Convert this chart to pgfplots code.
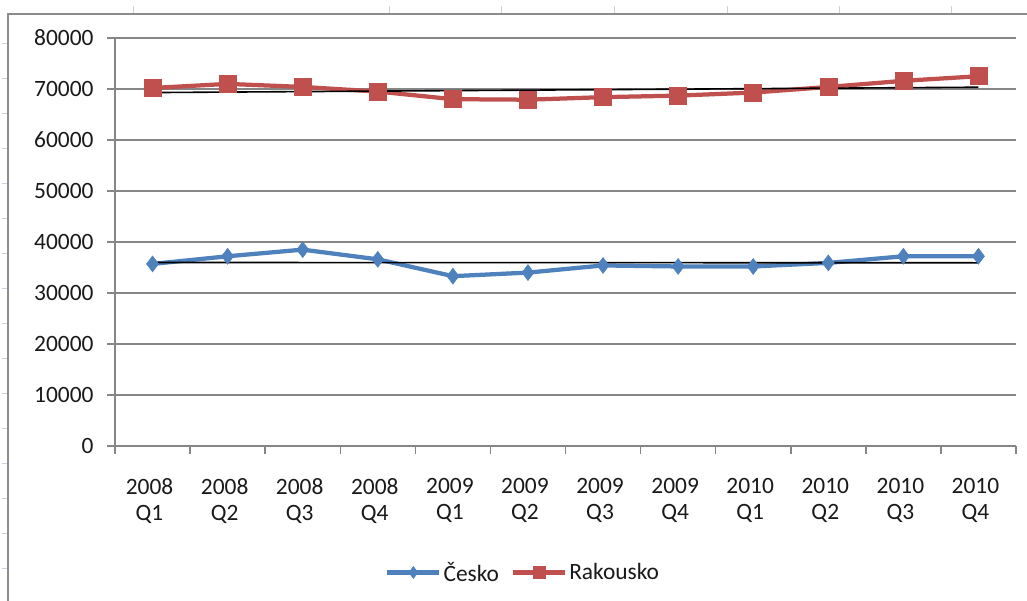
\documentclass[border=0pt]{standalone}
\usepackage{fontspec}
\setmainfont{Carlito}
\usepackage{pgfplots}
\pgfplotsset{compat=1.18}
\definecolor{czblue}{HTML}{4F81BD}
\definecolor{atred}{HTML}{C0504D}
\definecolor{gridgray}{HTML}{868686}
\definecolor{framegray}{HTML}{8C8C8C}
\definecolor{sheetline}{HTML}{C9D3E3}
\definecolor{labeltext}{HTML}{1A1A1A}

% Quarterly values
\pgfplotstableread{
q   cz     at
1   35700  70200
2   37200  71000
3   38500  70400
4   36600  69500
5   33300  68000
6   34000  67900
7   35400  68400
8   35200  68700
9   35200  69300
10  35900  70400
11  37200  71600
12  37200  72500
}\datatable

\newcommand{\chartfont}{\fontsize{23.5}{26}\selectfont}

\begin{document}
\begin{tikzpicture}[x=1bp,y=1bp]
\path[use as bounding box] (0,0) rectangle (1027,601);
\fill[white] (0,0) rectangle (1027,601);
% worksheet cell lines peeking around the chart area
\foreach \xx in {133,389,501,614,727,839,951}
  \draw[sheetline, line width=1bp] (\xx,587) -- (\xx,595);
\foreach \yy in {44,79,114,149,184,219,254,289,324,359,394,429,464,499,534,569}
  \draw[sheetline, line width=1bp] (2,601-\yy) -- (8,601-\yy);
% chart area border
\draw[framegray, line width=1.5bp] (8,0) -- (8,587) -- (1027,587);
\begin{axis}[
  at={(115bp,155bp)}, anchor=south west,
  width=901bp, height=408bp, scale only axis,
  xmin=0.5, xmax=12.5, ymin=0, ymax=80000,
  axis lines=left,
  axis line style={-, gridgray, line width=1.5bp},
  xtick={0.5,1.5,...,12.5},
  x tick label as interval,
  xticklabels={{2008\\Q1},{2008\\Q2},{2008\\Q3},{2008\\Q4},
               {2009\\Q1},{2009\\Q2},{2009\\Q3},{2009\\Q4},
               {2010\\Q1},{2010\\Q2},{2010\\Q3},{2010\\Q4}},
  xticklabel style={align=center, font=\chartfont, text=labeltext,
    yshift=-21bp, xshift=-3bp},
  ytick={0,10000,...,80000},
  scaled y ticks=false,
  /pgf/number format/assume math mode=true,
  yticklabel style={/pgf/number format/fixed, /pgf/number format/1000 sep={},
    font=\chartfont, text=labeltext, xshift=-10bp},
  tick align=outside,
  major tick length=8bp,
  tick style={gridgray, line width=1.5bp},
  ymajorgrids,
  major grid style={gridgray, line width=1.5bp},
  legend style={at={(rel axis cs:0.453,-0.31)}, anchor=center, draw=none,
    fill=none, font=\chartfont, text=labeltext, legend columns=2,
    inner sep=0pt,
    /tikz/every even column/.append style={column sep=10bp}},
  legend cell align=left,
  legend image code/.code={
    \draw[#1, mark repeat=2, mark phase=2, mark size=6bp] plot coordinates {(0bp,0bp) (26bp,0bp) (52bp,0bp)};},
]
\addplot[czblue, line width=4.25bp, mark=diamond*, mark size=8bp,
  mark options={solid, fill=czblue, draw=czblue, line width=0.5bp}]
  table[x=q, y=cz] {\datatable};
\addlegendentry{Česko}
\addplot[atred, line width=4.25bp, mark=square*, mark size=8.5bp,
  mark options={solid, fill=atred, draw=atred, line width=0.5bp}]
  table[x=q, y=at] {\datatable};
\addlegendentry{Rakousko}
% linear trend lines
\addplot[black, line width=1.6bp, forget plot] coordinates {(1,35980) (12,35920)};
\addplot[black, line width=1.6bp, forget plot] coordinates {(1,69300) (12,70350)};
\end{axis}
\end{tikzpicture}
\end{document}
